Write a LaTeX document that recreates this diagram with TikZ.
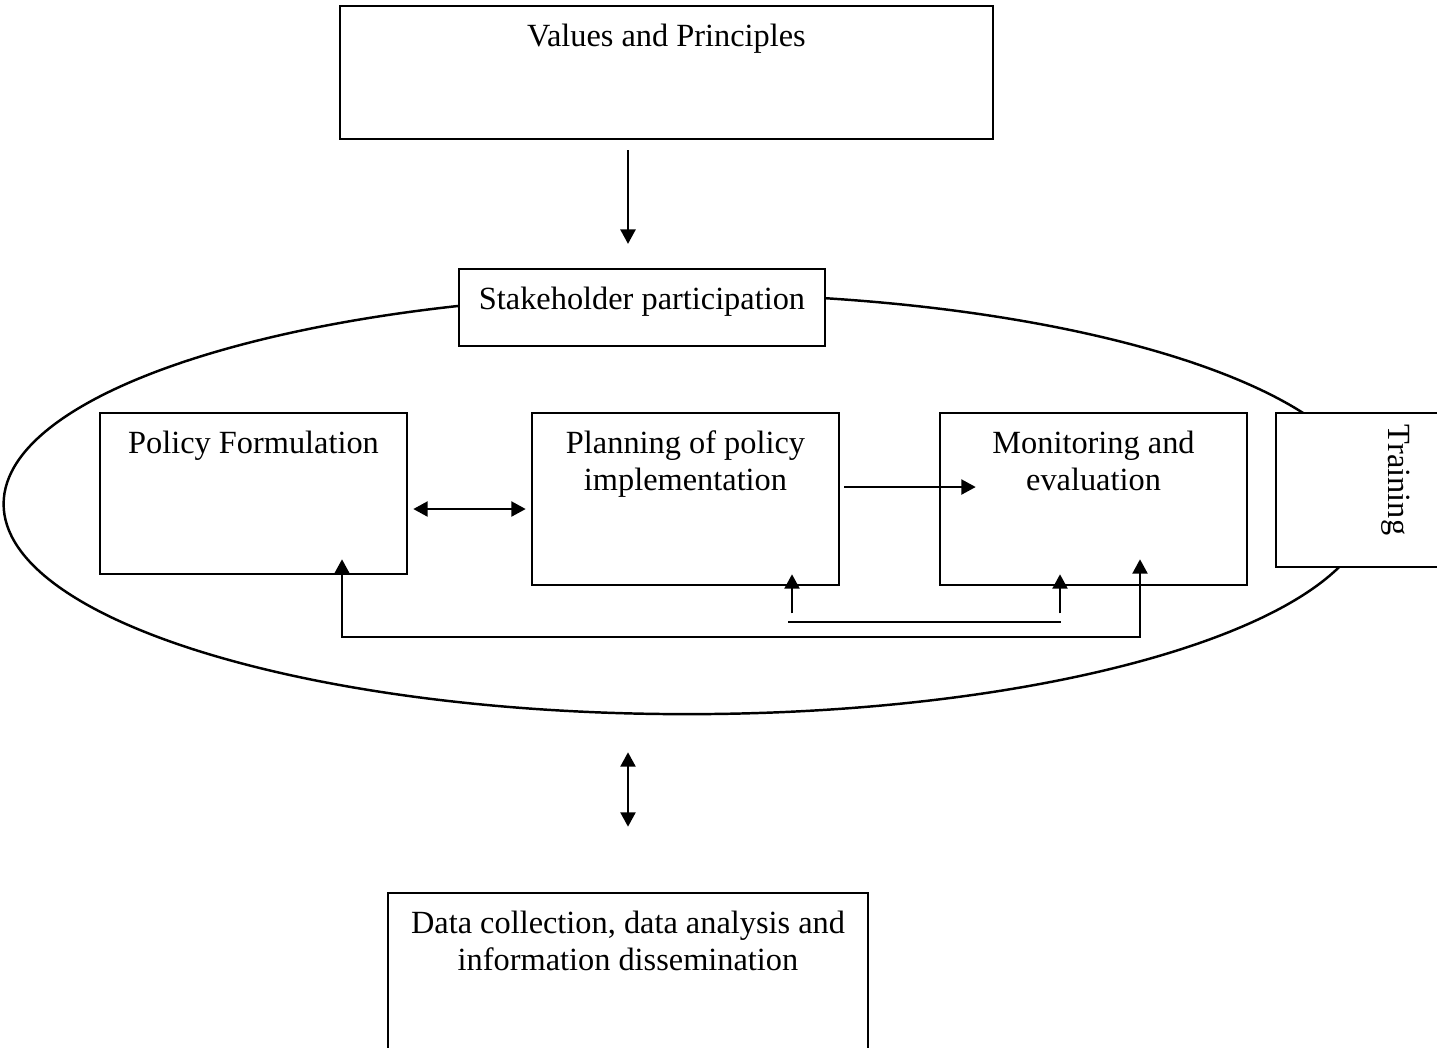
\documentclass[tikz,border=0pt]{standalone}
\usepackage{fontspec}
\setmainfont{Liberation Serif}
\usetikzlibrary{positioning}
\usetikzlibrary{shapes.geometric}
\usetikzlibrary{arrows.meta}

\tikzset{
  box/.style={draw, rectangle, fill=white, line width=0.7pt, inner sep=0pt},
  caption/.style={font=\fontsize{9.2}{10.6}\selectfont, align=center, inner sep=0pt},
  head/.style={label={[caption, anchor=north, yshift=-5.2pt]north:#1}},
  flow/.style={-{Triangle[width=4.3pt,length=4.1pt]}, line width=0.6pt},
  twoway/.style={{Triangle[width=4.3pt,length=4.1pt]}-{Triangle[width=4.3pt,length=4.1pt]}, line width=0.6pt}
}

\begin{document}
\begin{tikzpicture}[x=0.01cm, y=-0.01cm]
    \useasboundingbox (0,0) rectangle (1437,1047);
    \clip (0,0) rectangle (1437,1047);

    % Cycle
    \node[draw, ellipse, line width=0.7pt, minimum width=13.66cm, minimum height=4.2cm, inner sep=0pt] (cycle) at (687,504) {};

    % Boxes
    \node[box, minimum width=6.53cm, minimum height=1.33cm, head=Values and Principles] (values) at (666.5,72.5) {};
    \node[box, minimum width=3.66cm, minimum height=0.77cm, head=Stakeholder participation] (stake) at (642,307.5) {};
    \node[box, minimum width=3.07cm, minimum height=1.61cm, head=Policy Formulation] (policy) at (253.5,493.5) {};
    \node[box, minimum width=3.07cm, minimum height=1.72cm, head={Planning of policy\\implementation}] (planning) at (685.5,499) {};
    \node[box, minimum width=3.07cm, minimum height=1.72cm, head={Monitoring and\\evaluation}] (monitoring) at (1093.5,499) {};
    \node[box, minimum width=3.00cm, minimum height=1.54cm] (training) at (1426,490) {};
    \node[caption, rotate=-90] (traininglabel) at (1396,480) {Training};
    \node[box, minimum width=4.80cm, minimum height=1.70cm, head={Data collection, data analysis and\\information dissemination}] (data) at (628,978) {};

    % Arrows
    \draw[flow, shorten <=2.8pt, shorten >=6.8pt] (data.north |- values.south) -- (data.north |- stake.north);
    \draw[twoway] ([shift={(5,15.5)}]policy.east) -- ([shift={(-5,10)}]planning.west);
    \draw[flow] ([shift={(4,-12)}]planning.east) -- ([shift={(37,-12)}]monitoring.west);

    % Feedback
    \draw[twoway] ([shift={(88.5,-16)}]policy.south) -- ++(0,78) -| ([shift={(46.5,-27)}]monitoring.south);
    \draw[flow] ([shift={(106.5,27)}]planning.south) -- ([shift={(106.5,-12)}]planning.south);
    \draw[flow] ([shift={(-33.5,27)}]monitoring.south) -- ([shift={(-33.5,-12)}]monitoring.south);
    \draw[line width=0.6pt] ([shift={(102.5,36)}]planning.south) -- ([shift={(-32.5,36)}]monitoring.south);

    \draw[twoway, shorten <=10.5pt, shorten >=18.5pt] (data.north |- cycle.south) -- (data.north);
\end{tikzpicture}
\end{document}
